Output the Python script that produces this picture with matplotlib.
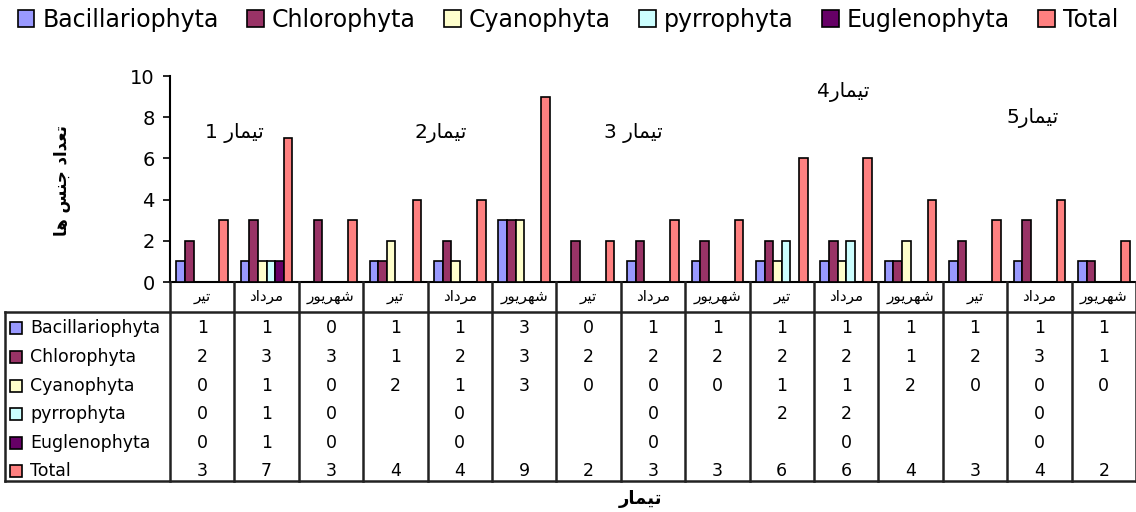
import matplotlib
matplotlib.use("Agg")
import matplotlib.pyplot as plt
from matplotlib.patches import Patch, Rectangle
from matplotlib.lines import Line2D
from matplotlib.transforms import blended_transform_factory
import numpy as np

plt.rcParams['font.family'] = ['DejaVu Sans']

# data (None = empty cell in the table)
months = ["تیر", "مرداد", "شهریور"] * 5
treatments = ["تیمار 1", "تیمار2", "تیمار 3", "تیمار4", "تیمار5"]
series = ["Bacillariophyta", "Chlorophyta", "Cyanophyta", "pyrrophyta", "Euglenophyta", "Total"]
bacillariophyta = [1, 1, 0, 1, 1, 3, 0, 1, 1, 1, 1, 1, 1, 1, 1]
chlorophyta = [2, 3, 3, 1, 2, 3, 2, 2, 2, 2, 2, 1, 2, 3, 1]
cyanophyta = [0, 1, 0, 2, 1, 3, 0, 0, 0, 1, 1, 2, 0, 0, 0]
pyrrophyta = [0, 1, 0, None, 0, None, None, 0, None, 2, 2, None, None, 0, None]
euglenophyta = [0, 1, 0, None, 0, None, None, 0, None, None, 0, None, None, 0, None]
total = [3, 7, 3, 4, 4, 9, 2, 3, 3, 6, 6, 4, 3, 4, 2]
colors = ["#9999FF", "#993366", "#FFFFCC", "#CCFFFF", "#660066", "#FF8080"]

values = [bacillariophyta, chlorophyta, cyanophyta, pyrrophyta, euglenophyta, total]

# minimal Arabic/Persian shaping (no reshaper lib available)
FORMS = {  # isolated, final, initial, medial
    'ا': ('\ufe8d', '\ufe8e', None, None),
    'د': ('\ufea9', '\ufeaa', None, None),
    'ر': ('\ufead', '\ufeae', None, None),
    'و': ('\ufeed', '\ufeee', None, None),
    'ت': ('\ufe95', '\ufe96', '\ufe97', '\ufe98'),
    'ج': ('\ufe9d', '\ufe9e', '\ufe9f', '\ufea0'),
    'س': ('\ufeb1', '\ufeb2', '\ufeb3', '\ufeb4'),
    'ش': ('\ufeb5', '\ufeb6', '\ufeb7', '\ufeb8'),
    'ع': ('\ufec9', '\ufeca', '\ufecb', '\ufecc'),
    'م': ('\ufee1', '\ufee2', '\ufee3', '\ufee4'),
    'ن': ('\ufee5', '\ufee6', '\ufee7', '\ufee8'),
    'ه': ('\ufee9', '\ufeea', '\ufeeb', '\ufeec'),
    'ی': ('\ufbfc', '\ufbfd', '\ufbfe', '\ufbff'),
}


def fa(text):
    out = []
    for i, c in enumerate(text):
        if c not in FORMS:
            out.append(c)
            continue
        prev = text[i - 1] if i > 0 else ''
        nxt = text[i + 1] if i + 1 < len(text) else ''
        jp = prev in FORMS and FORMS[prev][2] is not None
        jn = nxt in FORMS and FORMS[c][2] is not None
        iso, fin, ini, med = FORMS[c]
        if jp and jn:
            out.append(med)
        elif jp:
            out.append(fin)
        elif jn:
            out.append(ini)
        else:
            out.append(iso)
    return ''.join(out)[::-1]


W, H = 1136, 512
fig = plt.figure(figsize=(W / 100, H / 100), dpi=100)


def fx(px):
    return px / W


def fy(py):
    return 1 - py / H


ax = fig.add_axes([fx(170), fy(282), fx(W) - fx(170), fy(76) - fy(282)])

n = len(months)
x = np.arange(n) + 0.5
w = 1 / 7.5
for k, (vals, col) in enumerate(zip(values, colors)):
    xs = [xi + (k - 2.5) * w for xi, v in zip(x, vals) if v is not None]
    hs = [v for v in vals if v is not None]
    ax.bar(xs, hs, width=w, color=col, edgecolor='black', linewidth=1.2, zorder=3)

ax.set_xlim(0, n)
ax.set_ylim(0, 10)
ax.set_yticks(range(0, 11, 2))
ax.tick_params(axis='y', labelsize=14, length=5, width=1.2, direction='out', pad=6)
ax.set_xticks([])
for s in ['top', 'right']:
    ax.spines[s].set_visible(False)
for s in ['left', 'bottom']:
    ax.spines[s].set_linewidth(1.5)

# treatment labels
ann_pos = [(1.0, 7.25), (4.2, 7.25), (7.2, 7.25), (10.45, 9.2), (13.4, 7.95)]
for t, (xp, yp) in zip(treatments, ann_pos):
    ax.text(xp, yp, fa(t), fontsize=14.5, ha='center', va='center')

# data table below the axis
tr = blended_transform_factory(ax.transData, fig.transFigure)
lc = '#222222'
for i in range(n + 1):
    fig.add_artist(Line2D([i, i], [fy(282), fy(481)], transform=tr, color=lc, lw=1.8, clip_on=False))
for yy in [312, 481]:
    fig.add_artist(Line2D([fx(5), 1], [fy(yy), fy(yy)], transform=fig.transFigure, color=lc, lw=1.8))
fig.add_artist(Line2D([fx(5), fx(5)], [fy(312), fy(481)], transform=fig.transFigure, color=lc, lw=1.8))

for xi, m in zip(x, months):
    fig.text(xi, fy(297), fa(m), transform=tr, fontsize=11, ha='center', va='center')

row_y = [328, 357, 386, 414, 443, 471]
for name, vals, col, ry in zip(series, values, colors, row_y):
    fig.add_artist(Rectangle((fx(10), fy(ry + 6)), fx(12), fy(0) - fy(12), transform=fig.transFigure,
                             facecolor=col, edgecolor='black', lw=1.2))
    fig.text(fx(30), fy(ry), name, fontsize=12.5, ha='left', va='center')
    for xi, v in zip(x, vals):
        if v is not None:
            fig.text(xi, fy(ry), str(v), transform=tr, fontsize=12.5, ha='center', va='center')

# axis titles
fig.text(fx(62), fy(180), fa("تعداد جنس ها"), rotation=90, fontsize=12, fontweight='bold',
         ha='center', va='center')
fig.text(fx(640), fy(499), fa("تیمار"), fontsize=13, fontweight='bold', ha='center', va='center')

handles = [Patch(facecolor=c, edgecolor='black', lw=1.2) for c in colors]
fig.legend(handles, series, loc='center', bbox_to_anchor=(0.5, fy(20)), ncol=6, frameon=False,
           fontsize=17, handlelength=0.7, handleheight=0.7, handletextpad=0.35,
           columnspacing=1.2, borderaxespad=0)

fig.savefig("out.png", dpi=100)
